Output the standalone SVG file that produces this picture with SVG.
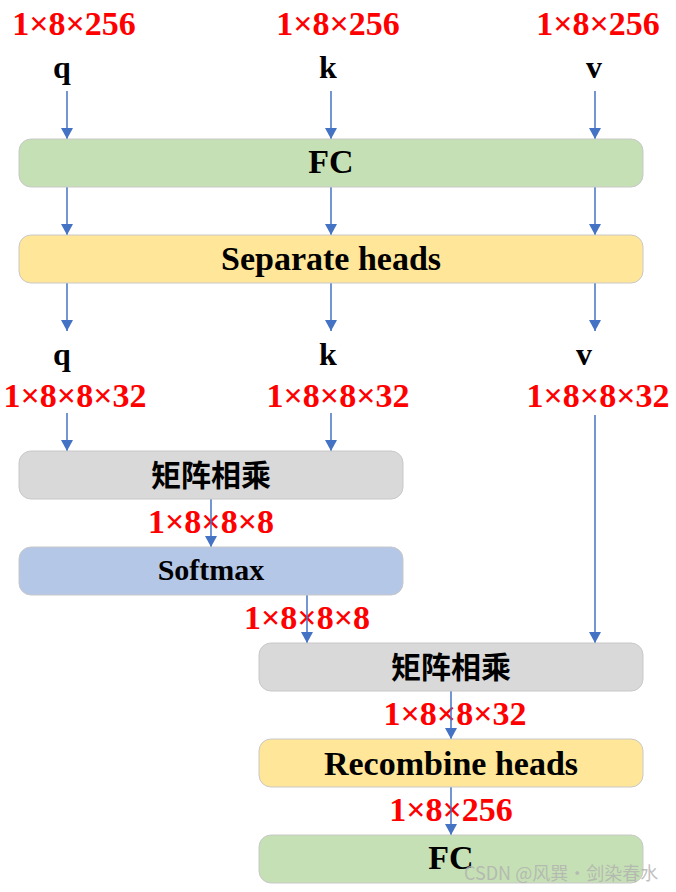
<svg xmlns="http://www.w3.org/2000/svg" width="676" height="892" viewBox="0 0 676 892">
<style>
.box{stroke:#c8c8c8;stroke-width:1}
.t{font-family:"Liberation Serif","Times New Roman",serif;font-weight:bold;font-size:34px;fill:#000;text-anchor:middle}
.c{font-family:"Noto Sans CJK SC","Noto Sans CJK JP",sans-serif;font-weight:bold;font-size:30px;fill:#000;text-anchor:middle}
.r{font-family:"Liberation Serif","Times New Roman",serif;font-weight:bold;font-size:34px;fill:#ff0000;text-anchor:middle}
.ln{stroke:#4472C4;stroke-width:1.5;fill:none;marker-end:url(#ah)}
.wm{font-family:"Noto Sans CJK SC",sans-serif;font-size:18px;fill:#b0b0b0;fill-opacity:0.8}
</style>
<defs>
<marker id="ah" markerWidth="11" markerHeight="12" refX="11" refY="6" orient="auto" markerUnits="userSpaceOnUse" viewBox="0 0 11 12">
<path d="M0,0 L11,6 L0,12 z" fill="#4472C4"/>
</marker>
</defs>
<rect width="676" height="892" fill="#fff"/>
<g id="labels">
<text class="r" x="74" y="35">1×8×256</text>
<text class="r" x="338" y="35">1×8×256</text>
<text class="r" x="598" y="35">1×8×256</text>
<text class="t" x="62" y="78" style="font-size:32px">q</text>
<text class="t" x="328" y="78" style="font-size:32px">k</text>
<text class="t" x="594" y="78" style="font-size:32px">v</text>
<text class="t" x="62" y="365" style="font-size:32px">q</text>
<text class="t" x="328" y="365" style="font-size:32px">k</text>
<text class="t" x="584" y="365" style="font-size:32px">v</text>
<text class="r" x="75" y="407">1×8×8×32</text>
<text class="r" x="338" y="407">1×8×8×32</text>
<text class="r" x="598" y="407">1×8×8×32</text>
<text class="r" x="211" y="533">1×8×8×8</text>
<text class="r" x="307" y="629">1×8×8×8</text>
<text class="r" x="455" y="725">1×8×8×32</text>
<text class="r" x="451" y="821">1×8×256</text>
</g>
<g id="connectors">
<line class="ln" x1="67" y1="91" x2="67" y2="139"/>
<line class="ln" x1="331" y1="91" x2="331" y2="139"/>
<line class="ln" x1="595" y1="91" x2="595" y2="139"/>
<line class="ln" x1="67" y1="187" x2="67" y2="235"/>
<line class="ln" x1="331" y1="187" x2="331" y2="235"/>
<line class="ln" x1="595" y1="187" x2="595" y2="235"/>
<line class="ln" x1="67" y1="283" x2="67" y2="331"/>
<line class="ln" x1="331" y1="283" x2="331" y2="331"/>
<line class="ln" x1="595" y1="283" x2="595" y2="331"/>
<line class="ln" x1="67" y1="413" x2="67" y2="451"/>
<line class="ln" x1="331" y1="413" x2="331" y2="451"/>
<line class="ln" x1="595" y1="415" x2="595" y2="643"/>
<line class="ln" x1="211" y1="499" x2="211" y2="547"/>
<line class="ln" x1="307" y1="595" x2="307" y2="643"/>
<line class="ln" x1="451" y1="691" x2="451" y2="739"/>
<line class="ln" x1="451" y1="787" x2="451" y2="835"/>
</g>
<g id="fc1"><rect class="box" x="19" y="139" width="624" height="48" rx="12" fill="#C5E0B4"/><text class="t" x="331" y="173">FC</text></g>
<g id="sep"><rect class="box" x="19" y="235" width="624" height="48" rx="12" fill="#FFE699"/><text class="t" x="331" y="270">Separate heads</text></g>
<g id="matmul1"><rect class="box" x="19" y="451" width="384" height="48" rx="12" fill="#D9D9D9"/><text class="c" x="211" y="486">矩阵相乘</text></g>
<g id="softmax"><rect class="box" x="19" y="547" width="384" height="48" rx="12" fill="#B4C7E7"/><text class="t" x="211" y="580" style="font-size:30px">Softmax</text></g>
<g id="matmul2"><rect class="box" x="259" y="643" width="384" height="48" rx="12" fill="#D9D9D9"/><text class="c" x="451" y="678">矩阵相乘</text></g>
<g id="recombine"><rect class="box" x="259" y="739" width="384" height="48" rx="12" fill="#FFE699"/><text class="t" x="451" y="775">Recombine heads</text></g>
<g id="fc2"><rect class="box" x="259" y="835" width="384" height="48" rx="12" fill="#C5E0B4"/><text class="t" x="451" y="869">FC</text></g>
<text class="wm" x="464" y="880">CSDN @风巽·剑染春水</text>
</svg>
